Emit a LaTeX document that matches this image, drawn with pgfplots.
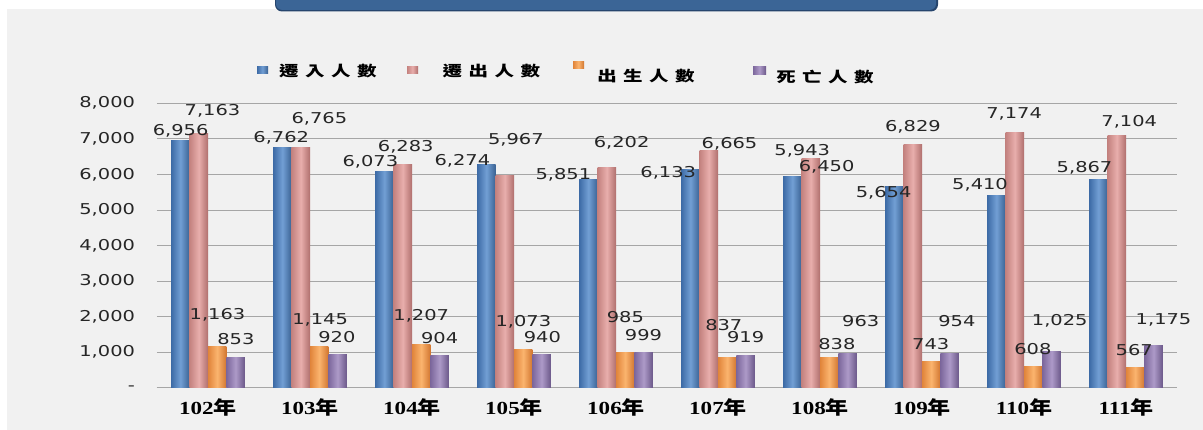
\documentclass[border=0pt]{standalone}
\usepackage{fontspec}
\usepackage{pgfplots}
\pgfplotsset{compat=1.18}
\usepackage{pgfplotstable}
\setmainfont{DejaVu Sans}[FakeStretch=1.3]
\newfontfamily\catfont{Liberation Serif}[FakeStretch=1.25]
\newfontfamily\cjkcat{Noto Sans CJK TC}[FakeStretch=1.25]
\newfontfamily\cjkleg{Noto Sans CJK TC}[FakeStretch=1.35, LetterSpace=45]
\newcommand{\yr}[1]{{\catfont\bfseries #1}{\cjkcat\bfseries 年}}

\definecolor{bgray}{HTML}{F1F1F1}
\definecolor{titleblue}{HTML}{3B6596}
\definecolor{titleedge}{HTML}{26456D}
\definecolor{gridc}{HTML}{A6A6A6}
\definecolor{labc}{HTML}{262626}
\definecolor{bL}{HTML}{3D6BA6}\definecolor{bM}{HTML}{729FD4}\definecolor{bR}{HTML}{3A6293}
\definecolor{pL}{HTML}{C4827F}\definecolor{pM}{HTML}{E8AEAC}\definecolor{pR}{HTML}{B06F6D}
\definecolor{oL}{HTML}{E0843A}\definecolor{oM}{HTML}{FBB46E}\definecolor{oR}{HTML}{D17630}
\definecolor{vL}{HTML}{7C679C}\definecolor{vM}{HTML}{AD9AC8}\definecolor{vR}{HTML}{6B5889}

% x = category index (0 = 102年 ... 9 = 111年), y = value, dx/dy = label offset from bar top (bp)
\pgfplotstableread{
x y dx dy
0 6956 0.2 9.7
1 6762 -1.2 9.6
2 6073 -14.0 10.1
3 6274 -24.0 4.0
4 5851 -25.1 4.7
5 6133 -22.2 -3.6
6 5943 9.8 25.4
7 5654 -10.8 -6.6
8 5410 -16.4 10.4
9 5867 -13.9 11.8
}\tblIn
\pgfplotstableread{
x y dx dy
0 7163 13.7 22.4
1 6765 18.6 28.2
2 6283 2.9 17.6
3 5967 11.0 35.6
4 6202 14.8 24.5
5 6665 20.7 6.8
6 6450 15.8 -8.3
7 6829 0.1 18.2
8 7174 -0.7 18.7
9 7104 12.4 12.9
}\tblOut
\pgfplotstableread{
x y dx dy
0 1163 0.3 31.4
1 1145 0.9 27.0
2 1207 0.0 28.8
3 1073 0.1 27.3
4 985 0.2 36.0
5 837 -3.4 32.9
6 838 7.7 13.9
7 743 -0.5 17.3
8 608 -0.4 17.1
9 567 -1.0 17.5
}\tblBirth
\pgfplotstableread{
x y dx dy
0 853 0.3 18.1
1 920 -0.7 17.7
2 904 0.0 17.3
3 940 0.8 17.6
4 999 -0.1 17.2
5 919 0.0 18.3
6 963 13.1 32.8
7 954 7.2 33.1
8 1025 8.1 30.6
9 1175 9.9 25.9
}\tblDeath

\pgfplotsset{
  lab/.style={nodes near coords style={anchor=center, xshift={(\labdx+(#1))*1bp}, yshift=\labdy bp, inner sep=0pt, font=\fontsize{15}{18}\selectfont, text=labc}},
  serIn/.style={ybar, bar width=18.4bp, bar shift=-27.6bp, draw=none, left color=bL, right color=bR, middle color=bM, lab=-27.6},
  serOut/.style={ybar, bar width=18.4bp, bar shift=-9.2bp, draw=none, left color=pL, right color=pR, middle color=pM, lab=-9.2},
  serBirth/.style={ybar, bar width=18.4bp, bar shift=9.2bp, draw=none, left color=oL, right color=oR, middle color=oM, lab=9.2},
  serDeath/.style={ybar, bar width=18.4bp, bar shift=27.6bp, draw=none, left color=vL, right color=vR, middle color=vM, lab=27.6},
}

\begin{document}
\begin{tikzpicture}
\useasboundingbox (-157bp,-42.3bp) rectangle (1046bp,387.7bp);
\fill[white] (-157bp,-42.3bp) rectangle (1046bp,387.7bp);
\fill[bgray] (-150bp,-42.3bp) rectangle (1046bp,378.7bp);
\fill[titleedge, rounded corners=7bp] (118bp,376.2bp) rectangle (781bp,400bp);
\fill[titleblue, rounded corners=6bp] (119bp,377.8bp) rectangle (779bp,400bp);

\begin{axis}[
  scale only axis,
  width=1020bp, height=284.4bp,
  xmin=-0.5, xmax=9.5, ymin=0, ymax=8000,
  clip=false,
  axis lines*=left,
  y axis line style={draw=none},
  x axis line style={draw=gridc, line width=0.8bp},
  ymajorgrids, grid style={draw=gridc, line width=0.8bp},
  major tick length=0pt, tick style={draw=none},
  xtick={0,...,9},
  xticklabels={\yr{102},\yr{103},\yr{104},\yr{105},\yr{106},\yr{107},\yr{108},\yr{109},\yr{110},\yr{111}},
  xticklabel style={anchor=base, yshift=-26.8bp, font=\fontsize{18.5}{20}\selectfont, text=black},
  ytick={0,1000,...,8000},
  yticklabels={{-},{1,000},{2,000},{3,000},{4,000},{5,000},{6,000},{7,000},{8,000}},
  yticklabel style={xshift=-18.5bp, font=\fontsize{15}{18}\selectfont, text=labc},
  /pgf/number format/.cd, fixed, precision=0, 1000 sep={,}, assume math mode=true,
  /pgfplots/.cd,
  nodes near coords={\pgfmathprintnumber{\pgfplotspointmeta}},
  visualization depends on={\thisrow{dx}\as\labdx},
  visualization depends on={\thisrow{dy}\as\labdy},
]
% one plot per bar so that each bar gets its own shading
\pgfplotsinvokeforeach{0,...,9}{
  \addplot[serIn, x filter/.expression={abs(x-#1)<0.1 ? x : nan}] table[x=x, y=y]{\tblIn};
  \addplot[serOut, x filter/.expression={abs(x-#1)<0.1 ? x : nan}] table[x=x, y=y]{\tblOut};
  \addplot[serBirth, x filter/.expression={abs(x-#1)<0.1 ? x : nan}] table[x=x, y=y]{\tblBirth};
  \addplot[serDeath, x filter/.expression={abs(x-#1)<0.1 ? x : nan}] table[x=x, y=y]{\tblDeath};
}
\end{axis}

% legend
\fill[left color=bL, right color=bR, middle color=bM] (100bp,313.7bp) rectangle (111bp,320.7bp);
\node[font=\cjkleg\bfseries\fontsize{14.5}{16}\selectfont, inner sep=0pt] at (171bp,316.7bp) {遷入人數};
\fill[left color=pL, right color=pR, middle color=pM] (250bp,313.7bp) rectangle (261bp,320.7bp);
\node[font=\cjkleg\bfseries\fontsize{14.5}{16}\selectfont, inner sep=0pt] at (334.5bp,316.7bp) {遷出人數};
\fill[left color=oL, right color=oR, middle color=oM] (416bp,318.7bp) rectangle (427bp,325.7bp);
\node[font=\cjkleg\bfseries\fontsize{14.5}{16}\selectfont, inner sep=0pt] at (489bp,311.2bp) {出生人數};
\fill[left color=vL, right color=vR, middle color=vM] (596bp,312.7bp) rectangle (609bp,320.7bp);
\node[font=\cjkleg\bfseries\fontsize{14.5}{16}\selectfont, inner sep=0pt] at (668bp,310.2bp) {死亡人數};
\end{tikzpicture}
\end{document}
